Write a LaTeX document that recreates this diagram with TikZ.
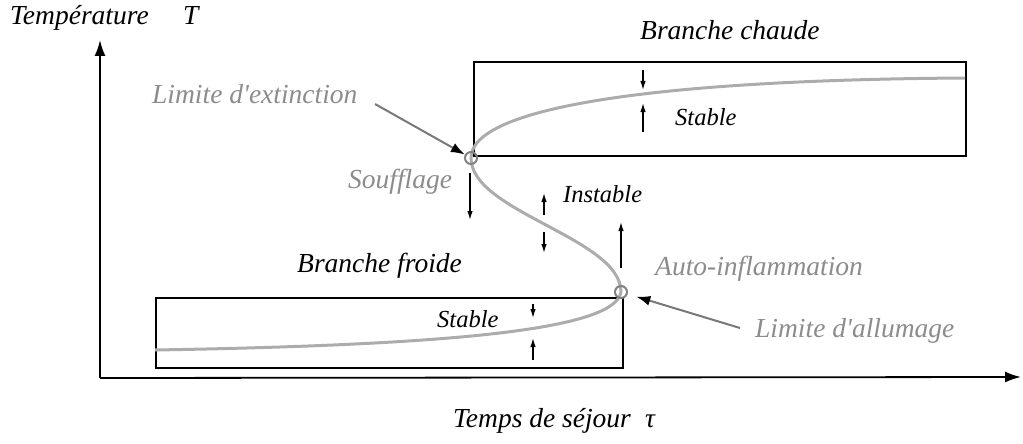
\documentclass[tikz,border=0pt]{standalone}
\usepackage{fontspec}
\setmainfont{Liberation Serif}[Ligatures=TeXOff]
\usetikzlibrary{arrows.meta}
\definecolor{curvegray}{RGB}{172,172,172}
\definecolor{textgray}{RGB}{140,140,140}
\definecolor{ringgray}{RGB}{130,130,130}
\definecolor{leadgray}{RGB}{120,120,120}
\begin{document}
\begin{tikzpicture}[x=1pt,y=-1pt,
  lbl/.style={font=\fontsize{27.5}{30}\selectfont\itshape, inner sep=0pt, anchor=base west},
  slbl/.style={lbl, font=\fontsize{24.5}{27}\selectfont\itshape},
  glbl/.style={lbl, text=textgray},
  boxst/.style={draw=black, line width=2pt, inner sep=0pt, anchor=north west},
  axisst/.style={line width=1.8pt, -{Latex[length=16pt,width=11pt]}},
  smallarr/.style={line width=1.3pt, -{Latex[length=9pt,width=5.5pt]}},
  garrow/.style={draw=leadgray, line width=2pt, -{Latex[length=14pt,width=10pt,color=black]}},
  ring/.style={circle, draw=ringgray, line width=2pt, minimum size=12pt, inner sep=0pt},
]
\useasboundingbox (0,0) rectangle (1023,444);

% axes
\coordinate (O) at (100,378);
\coordinate (Ytop) at (100,40);
\coordinate (Xend) at (1021,377);
\draw[axisst] (O) -- (Ytop);
\draw[axisst] (O) -- (Xend);

% boxes
\node[boxst, minimum width=492pt, minimum height=94pt] (hot) at (473,61) {};
\node[boxst, minimum width=467pt, minimum height=70pt] (cold) at (155,297) {};

% S curve
\draw[curvegray, line width=3pt] (155,350) .. controls (450,345) and (615,330) .. (621,292)
  .. controls (621,238) and (471,212) .. (471,158)
  .. controls (471,108) and (650,80) .. (965,78);

% rings
\node[ring] (ext) at (471,158) {};
\node[ring] (ign) at (621,292) {};

% small arrows
\coordinate (a1s) at (643,70);  \coordinate (a1e) at (643,90);
\coordinate (a2s) at (643,132); \coordinate (a2e) at (643,103);
\coordinate (a3s) at (470,173); \coordinate (a3e) at (470,220);
\coordinate (a4s) at (544,215); \coordinate (a4e) at (544,193);
\coordinate (a5s) at (544,232); \coordinate (a5e) at (544,253);
\coordinate (a6s) at (621,268); \coordinate (a6e) at (621,222);
\coordinate (a7s) at (533,304); \coordinate (a7e) at (533,318);
\coordinate (a8s) at (533,360); \coordinate (a8e) at (533,338);
\foreach \i in {1,...,8} {\draw[smallarr] (a\i s) -- (a\i e);}

% gray leader arrows
\coordinate (lext) at (375,104);
\coordinate (lign) at (740,328);
\draw[garrow] (lext) -- (ext);
\draw[garrow, shorten >=9pt] (lign) -- (ign);

% labels
\node[lbl] (ttemp) at (10,25) {Température};
\node[lbl] (tT) at (183,25) {T};
\node[lbl] (tchaude) at (640,40) {Branche chaude};
\node[glbl] (tlext) at (152,103) {Limite d'extinction};
\node[glbl] (tsouf) at (348,188) {Soufflage};
\node[slbl] (tst1) at (675,125) {Stable};
\node[slbl] (tinst) at (563,202) {Instable};
\node[lbl] (tfroide) at (297,272) {Branche froide};
\node[glbl] (tauto) at (655,275) {Auto-inflammation};
\node[glbl] (tlall) at (755,337) {Limite d'allumage};
\node[slbl] (tst2) at (437,327) {Stable};
\node[lbl] (ttemps) at (453,427) {Temps de séjour};
\node[lbl] (ttau) at (645,427) {τ};
\end{tikzpicture}
\end{document}
